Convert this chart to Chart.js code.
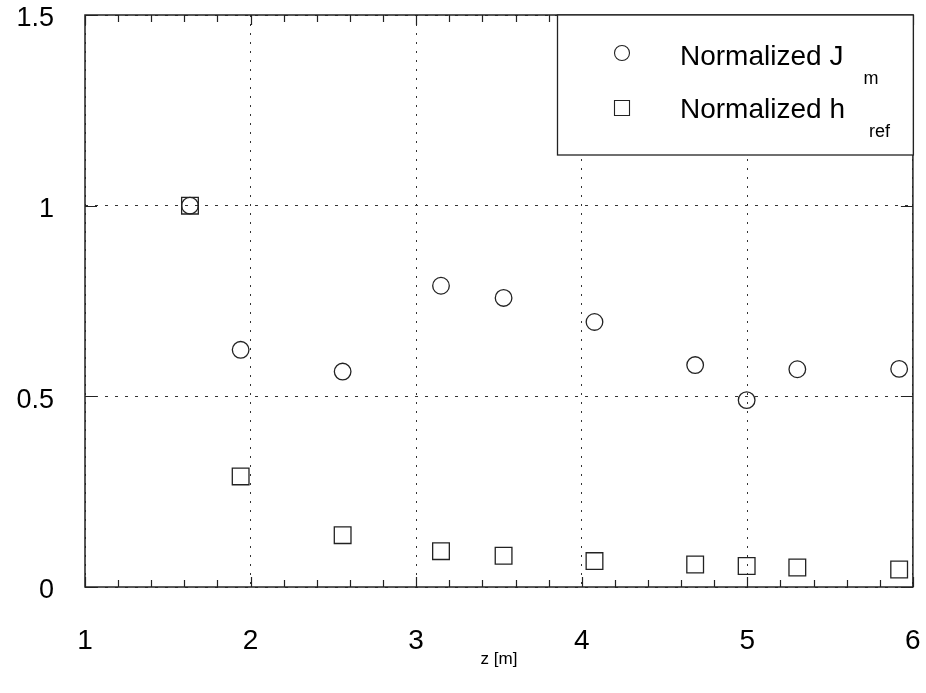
<!DOCTYPE html>
<html>
<head>
<meta charset="utf-8">
<script src="https://cdn.jsdelivr.net/npm/chart.js@4"></script>
<style>
  html, body { margin: 0; padding: 0; background: #fff; }
  canvas { display: block; }
</style>
</head>
<body>
<canvas id="chart" width="926" height="693"></canvas>
<script>
// measurement positions along z [m]
const zPositions = [1.634, 1.940, 2.556, 3.150, 3.528, 4.077, 4.685, 4.996, 5.302, 5.917];
const normJm = [1.0, 0.622, 0.565, 0.790, 0.758, 0.695, 0.582, 0.490, 0.571, 0.572];
const normHref = [1.0, 0.290, 0.136, 0.094, 0.082, 0.068, 0.059, 0.055, 0.051, 0.046];
const xTicks = [1, 2, 3, 4, 5, 6];
const yTicks = [0, 0.5, 1, 1.5];

const FONT = "'Liberation Sans', Arial, Helvetica, sans-serif";
const INK = "#222";

function pts(ys) {
  return zPositions.map((z, i) => ({ x: z, y: ys[i] }));
}

// label overflow is handled by layout padding, not by the scales
function noEdgePadding(s) {
  s.paddingTop = 0; s.paddingBottom = 0; s.paddingLeft = 0; s.paddingRight = 0;
}

// frame, inward ticks and the legend box with subscripts
const framePlugin = {
  id: "frame",
  afterDraw(chart) {
    const { ctx, chartArea: a, scales } = chart;
    const xs = scales.x, ys = scales.y;
    ctx.save();
    ctx.strokeStyle = INK;
    ctx.lineWidth = 1.5;
    ctx.strokeRect(a.left, a.top, a.right - a.left, a.bottom - a.top);

    ctx.lineWidth = 1.2;
    ctx.beginPath();
    for (let i = 0; i <= 25; i++) {
      const v = 1 + i * 0.2;
      const px = Math.round(xs.getPixelForValue(v)) + 0.5;
      const len = i % 5 === 0 ? 10 : 7;
      ctx.moveTo(px, a.bottom); ctx.lineTo(px, a.bottom - len);
      ctx.moveTo(px, a.top); ctx.lineTo(px, a.top + len);
    }
    yTicks.forEach((v) => {
      const py = Math.round(ys.getPixelForValue(v)) + 0.5;
      ctx.moveTo(a.left, py); ctx.lineTo(a.left + 12, py);
      ctx.moveTo(a.right, py); ctx.lineTo(a.right - 12, py);
    });
    ctx.stroke();

    // legend
    const lx = 557, ly = a.top, lw = a.right - lx, lh = 140;
    ctx.fillStyle = "#fff";
    ctx.fillRect(lx, ly, lw, lh);
    ctx.lineWidth = 1.3;
    ctx.strokeRect(lx + 0.5, ly, lw, lh);

    const rows = [
      { ds: chart.data.datasets[0], y: 65, sub: "m", gap: 20 },
      { ds: chart.data.datasets[1], y: 118, sub: "ref", gap: 24 },
    ];
    rows.forEach((r) => {
      ctx.strokeStyle = INK;
      ctx.lineWidth = 1.1;
      ctx.beginPath();
      if (r.ds.pointStyle === "circle") {
        ctx.arc(622, r.y - 12, 7.5, 0, Math.PI * 2);
      } else {
        ctx.rect(614.5, r.y - 17.5, 15, 15);
      }
      ctx.stroke();
      ctx.fillStyle = "#000";
      ctx.textBaseline = "alphabetic";
      ctx.textAlign = "left";
      ctx.font = "28px " + FONT;
      ctx.fillText(r.ds.label, 680, r.y);
      const w = ctx.measureText(r.ds.label).width;
      ctx.font = "18px " + FONT;
      ctx.fillText(r.sub, 680 + w + r.gap, r.y + 19);
    });
    ctx.restore();
  },
};

new Chart(document.getElementById("chart"), {
  type: "scatter",
  data: {
    datasets: [
      {
        label: "Normalized J",
        data: pts(normJm),
        pointStyle: "circle",
        radius: 8.3,
        borderColor: INK,
        borderWidth: 1.3,
        backgroundColor: "rgba(0,0,0,0)",
      },
      {
        label: "Normalized h",
        data: pts(normHref),
        pointStyle: "rect",
        radius: 11.8,
        borderColor: INK,
        borderWidth: 1.3,
        backgroundColor: "rgba(0,0,0,0)",
      },
    ],
  },
  options: {
    responsive: false,
    animation: false,
    layout: { padding: { top: 15, right: 13, left: 0, bottom: 0 } },
    plugins: { legend: { display: false }, tooltip: { enabled: false } },
    scales: {
      x: {
        type: "linear",
        min: 1,
        max: 6,
        afterFit: (s) => { s.height = 106; noEdgePadding(s); },
        afterBuildTicks: (s) => { s.ticks = xTicks.map((v) => ({ value: v })); },
        ticks: {
          autoSkip: false,
          maxRotation: 0,
          padding: 40,
          color: "#000",
          font: { family: FONT, size: 28, lineHeight: 1 },
          callback: (v) => String(v),
        },
        grid: { drawTicks: false, color: "#333", lineWidth: 1 },
        border: { display: false, dash: [2, 7] },
        title: {
          display: true,
          text: "z [m]",
          color: "#000",
          font: { family: FONT, size: 17 },
          padding: { top: 0, bottom: 23 },
        },
      },
      y: {
        type: "linear",
        min: 0,
        max: 1.5,
        afterFit: (s) => { s.width = 85; noEdgePadding(s); },
        afterBuildTicks: (s) => { s.ticks = yTicks.map((v) => ({ value: v })); },
        ticks: {
          padding: 31,
          labelOffset: 4,
          color: "#000",
          font: { family: FONT, size: 27, lineHeight: 1 },
          callback: (v) => String(v),
        },
        grid: { drawTicks: false, color: "#333", lineWidth: 1 },
        border: { display: false, dash: [3, 7] },
      },
    },
  },
  plugins: [framePlugin],
});
</script>
</body>
</html>
